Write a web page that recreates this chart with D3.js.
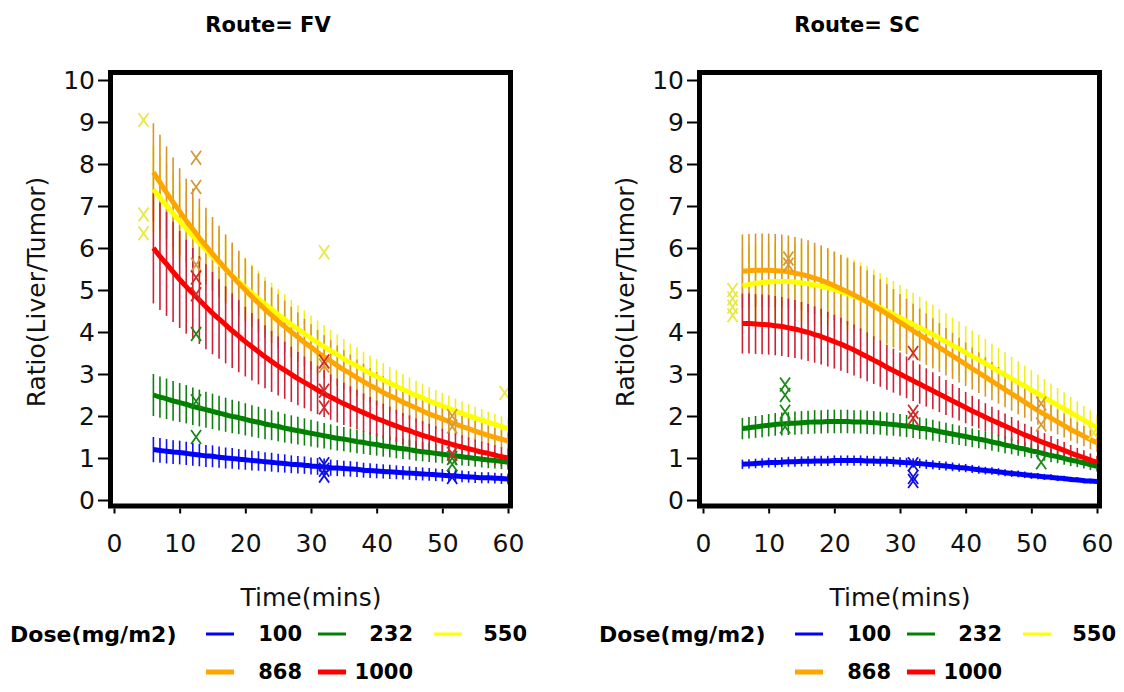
<!DOCTYPE html>
<html>
<head>
<meta charset="utf-8">
<script src="https://cdn.jsdelivr.net/npm/d3@7"></script>
<style>
  body { margin: 0; background: #fff; }
  svg { display: block; }
</style>
</head>
<body>
<svg id="chart" width="1124" height="692"></svg>
<script>

// ------------------------------------------------------
// DATA
// ------------------------------------------------------
var doses = ["100", "232", "550", "868", "1000"];
var lineColors = ["#0000ff", "#008000", "#ffff00", "#ffa500", "#ff0000"];
var barColors = ["#1010f0", "#108010", "#f0f020", "#d89628", "#cc2238"];
var markColors = ["#1010e0", "#1a8a1a", "#e8e840", "#d49a3a", "#d02a2a"];

var xTicks = [0, 10, 20, 30, 40, 50, 60];
var yTicks = [0, 1, 2, 3, 4, 5, 6, 7, 8, 9, 10];

// time grid of the fitted curves (mins)
var fitTimes = [6,7,8,9,10,11,12,13,14,15,16,17,18,19,20,21,22,23,24,25,26,27,28,29,30,31,32,33,
                34,35,36,37,38,39,40,41,42,43,44,45,46,47,48,49,50,51,52,53,54,55,56,57,58,59,60];

// Route = FV, fitted ratio per dose
var fvFit100  = [1.20,1.18,1.16,1.14,1.13,1.11,1.09,1.07,1.05,1.04,1.02,1.00,0.99,0.97,0.96,0.94,0.93,0.91,0.90,0.88,0.87,0.85,0.84,0.83,0.81,0.80,0.79,0.77,
                 0.76,0.75,0.74,0.73,0.71,0.70,0.69,0.68,0.67,0.66,0.65,0.64,0.63,0.62,0.61,0.60,0.59,0.58,0.57,0.56,0.55,0.54,0.53,0.53,0.52,0.51,0.50];
var fvFit232  = [2.50,2.45,2.41,2.36,2.32,2.28,2.23,2.19,2.15,2.11,2.07,2.03,1.99,1.96,1.92,1.88,1.85,1.81,1.78,1.75,1.71,1.68,1.65,1.62,1.59,1.56,1.53,1.50,
                 1.47,1.45,1.42,1.39,1.37,1.34,1.32,1.29,1.27,1.24,1.22,1.20,1.17,1.15,1.13,1.11,1.09,1.07,1.05,1.03,1.01,0.99,0.97,0.95,0.94,0.92,0.90];
var fvFit550  = [7.40,7.20,7.01,6.82,6.64,6.46,6.29,6.12,5.95,5.79,5.64,5.49,5.34,5.20,5.06,4.92,4.79,4.66,4.54,4.41,4.30,4.18,4.07,3.96,3.85,3.75,3.65,3.55,
                 3.46,3.36,3.27,3.19,3.10,3.02,2.94,2.86,2.78,2.71,2.63,2.56,2.49,2.43,2.36,2.30,2.24,2.18,2.12,2.06,2.01,1.95,1.90,1.85,1.80,1.75,1.70];
var fvFit868  = [7.80,7.56,7.32,7.09,6.87,6.65,6.45,6.24,6.05,5.86,5.68,5.50,5.33,5.16,5.00,4.84,4.69,4.54,4.40,4.26,4.13,4.00,3.88,3.75,3.64,3.52,3.41,3.31,
                 3.20,3.10,3.01,2.91,2.82,2.73,2.65,2.56,2.48,2.41,2.33,2.26,2.19,2.12,2.05,1.99,1.93,1.87,1.81,1.75,1.70,1.64,1.59,1.54,1.49,1.45,1.40];
var fvFit1000 = [6.00,5.80,5.62,5.43,5.25,5.08,4.92,4.76,4.60,4.45,4.31,4.17,4.03,3.90,3.77,3.65,3.53,3.41,3.30,3.19,3.09,2.99,2.89,2.80,2.71,2.62,2.53,2.45,
                 2.37,2.29,2.22,2.15,2.08,2.01,1.94,1.88,1.82,1.76,1.70,1.65,1.59,1.54,1.49,1.44,1.39,1.35,1.30,1.26,1.22,1.18,1.14,1.11,1.07,1.03,1.00];

// Route = SC, fitted ratio per dose
var scFit100  = [0.85,0.86,0.87,0.88,0.89,0.89,0.90,0.91,0.91,0.92,0.92,0.93,0.93,0.93,0.94,0.94,0.94,0.94,0.94,0.93,0.93,0.92,0.92,0.91,0.90,0.89,0.88,0.87,
                 0.85,0.84,0.82,0.81,0.79,0.77,0.76,0.74,0.72,0.70,0.69,0.67,0.65,0.63,0.62,0.60,0.58,0.57,0.55,0.54,0.52,0.51,0.49,0.48,0.46,0.45,0.44];
var scFit232  = [1.70,1.72,1.74,1.76,1.78,1.80,1.81,1.82,1.83,1.84,1.85,1.86,1.86,1.87,1.87,1.87,1.87,1.86,1.86,1.85,1.84,1.83,1.81,1.80,1.78,1.76,1.74,1.71,
                 1.69,1.66,1.63,1.60,1.57,1.54,1.51,1.48,1.45,1.42,1.38,1.35,1.31,1.28,1.24,1.21,1.17,1.14,1.10,1.06,1.03,0.99,0.95,0.92,0.88,0.84,0.80];
var scFit550  = [5.10,5.13,5.16,5.18,5.19,5.20,5.20,5.20,5.19,5.17,5.15,5.12,5.09,5.05,5.01,4.96,4.91,4.85,4.79,4.72,4.65,4.58,4.50,4.42,4.34,4.26,4.18,4.10,
                 4.02,3.94,3.85,3.77,3.68,3.60,3.51,3.42,3.34,3.25,3.16,3.07,2.98,2.89,2.80,2.71,2.62,2.53,2.44,2.35,2.26,2.17,2.08,1.99,1.90,1.81,1.72];
var scFit868  = [5.45,5.46,5.47,5.47,5.47,5.46,5.45,5.43,5.40,5.37,5.33,5.28,5.23,5.17,5.10,5.03,4.96,4.88,4.80,4.71,4.62,4.53,4.43,4.33,4.23,4.13,4.03,3.93,
                 3.83,3.73,3.63,3.53,3.43,3.33,3.23,3.13,3.03,2.93,2.83,2.73,2.63,2.53,2.43,2.33,2.23,2.13,2.04,1.95,1.86,1.77,1.68,1.60,1.52,1.44,1.36];
var scFit1000 = [4.20,4.20,4.19,4.18,4.17,4.15,4.13,4.10,4.07,4.03,3.99,3.94,3.89,3.83,3.77,3.71,3.64,3.57,3.49,3.41,3.33,3.25,3.16,3.08,3.00,2.92,2.84,2.76,
                 2.68,2.60,2.52,2.44,2.36,2.28,2.20,2.12,2.05,1.97,1.90,1.83,1.76,1.69,1.62,1.55,1.49,1.42,1.36,1.30,1.24,1.18,1.12,1.06,1.01,0.95,0.90];

// half width of the vertical bars, as a share of the fitted value
var fvBand = [0.25, 0.20, 0.14, 0.15, 0.22];
var scBand = [0.13, 0.15, 0.18, 0.16, 0.17];

// observed values [time, ratio]
var fvObs100  = [[32, 0.85], [32, 0.72], [32, 0.58], [51.5, 0.55]];
var fvObs232  = [[12.5, 3.95], [12.5, 2.35], [12.5, 1.5], [51.5, 1.0], [51.5, 0.85]];
var fvObs550  = [[4.5, 9.05], [4.5, 6.8], [4.5, 6.35], [32, 5.9], [32, 3.3], [59.5, 2.55]];
var fvObs868  = [[12.5, 8.15], [12.5, 7.45], [12.5, 5.6], [32, 3.2], [51.5, 2.0], [51.5, 1.75]];
var fvObs1000 = [[12.5, 5.3], [12.5, 4.9], [32, 3.3], [32, 2.6], [32, 2.2], [51.5, 1.1]];

var scObs100  = [[32, 0.85], [32, 0.55], [32, 0.45]];
var scObs232  = [[12.5, 2.75], [12.5, 2.5], [12.5, 2.1], [12.5, 1.75], [51.5, 0.9]];
var scObs550  = [[4.5, 5.0], [4.5, 4.8], [4.5, 4.6], [4.5, 4.4], [59.5, 1.6]];
var scObs868  = [[13, 5.75], [13, 5.6], [51.5, 2.3], [51.5, 1.8]];
var scObs1000 = [[32, 3.5], [32, 2.1], [32, 1.95]];


// ------------------------------------------------------
// SETUP
// ------------------------------------------------------
var svg = d3.select("#chart");
var tickFont = "DejaVu Sans";

var panels = [
    { title: "Route= FV", left: 114, fits: [fvFit100, fvFit232, fvFit550, fvFit868, fvFit1000],
      obs: [fvObs100, fvObs232, fvObs550, fvObs868, fvObs1000], band: fvBand },
    { title: "Route= SC", left: 703, fits: [scFit100, scFit232, scFit550, scFit868, scFit1000],
      obs: [scObs100, scObs232, scObs550, scObs868, scObs1000], band: scBand }
];

panels.forEach(drawPanel);

// --------------------------------------------------
// One panel: bars, fitted lines, observed X marks, frame, axes, legend
// --------------------------------------------------
function drawPanel(p) {
    var x = d3.scaleLinear().domain([0, 60]).range([p.left, p.left + 394]);
    var y = d3.scaleLinear().domain([0, 10]).range([500, 80]);
    var g = svg.append("g");

    var frameL = x(0) - 3.5, frameR = x(60) + 2.5, frameT = y(10) - 7.5, frameB = y(0) + 6;

    // vertical bars
    p.fits.forEach(function(fit, i) {
        var rows = fit.map(function(v, j) { return { t: fitTimes[j], v: v }; });
        g.append("g").selectAll("line")
            .data(rows)
            .enter().append("line")
            .attr("x1", function(d) { return x(d.t); })
            .attr("x2", function(d) { return x(d.t); })
            .attr("y1", function(d) { return y(d.v * (1 + p.band[i])); })
            .attr("y2", function(d) { return y(d.v * (1 - p.band[i])); })
            .attr("stroke", barColors[i])
            .attr("stroke-width", 1.6);
    });

    // fitted curves
    var line = d3.line()
        .x(function(d) { return x(d.t); })
        .y(function(d) { return y(d.v); })
        .curve(d3.curveMonotoneX);

    p.fits.forEach(function(fit, i) {
        var rows = fit.map(function(v, j) { return { t: fitTimes[j], v: v }; });
        g.append("path")
            .datum(rows)
            .attr("d", line)
            .attr("fill", "none")
            .attr("stroke", lineColors[i])
            .attr("stroke-width", 5)
            .attr("stroke-linejoin", "round");
    });

    // observed points
    p.obs.forEach(function(pts, i) {
        g.append("g").selectAll("path")
            .data(pts)
            .enter().append("path")
            .attr("transform", function(d) { return "translate(" + x(d[0]) + "," + y(d[1]) + ")"; })
            .attr("d", "M-5,-7L5,7M5,-7L-5,7")
            .attr("fill", "none")
            .attr("stroke", markColors[i])
            .attr("stroke-width", 1.8);
    });

    // frame
    g.append("rect")
        .attr("x", frameL).attr("y", frameT)
        .attr("width", frameR - frameL).attr("height", frameB - frameT)
        .attr("fill", "none")
        .attr("stroke", "#000")
        .attr("stroke-width", 5);

    // axes
    var yAxis = g.append("g")
        .attr("transform", "translate(" + (frameL - 2.5) + ",0)")
        .call(d3.axisLeft(y).tickValues(yTicks).tickSize(10).tickPadding(3));
    var xAxis = g.append("g")
        .attr("transform", "translate(0," + (frameB + 2.5) + ")")
        .call(d3.axisBottom(x).tickValues(xTicks).tickSize(5).tickPadding(21));

    [yAxis, xAxis].forEach(function(a) {
        a.select(".domain").remove();
        a.selectAll(".tick line").attr("stroke", "#000").attr("stroke-width", 2);
        a.selectAll(".tick text")
            .attr("fill", "#111")
            .attr("font-family", tickFont)
            .attr("font-size", 25);
    });

    // titles
    g.append("text")
        .attr("x", p.left + 154).attr("y", 32)
        .attr("text-anchor", "middle")
        .attr("font-family", "DejaVu Sans")
        .attr("font-weight", "bold")
        .attr("font-size", 21)
        .text(p.title);

    g.append("text")
        .attr("transform", "translate(" + (p.left - 78) + "," + 292 + ") rotate(-90)")
        .attr("dy", "0.35em")
        .attr("text-anchor", "middle")
        .attr("font-family", tickFont)
        .attr("font-size", 25)
        .attr("fill", "#111")
        .text("Ratio(Liver/Tumor)");

    g.append("text")
        .attr("x", (x(0) + x(60)) / 2).attr("y", 606)
        .attr("text-anchor", "middle")
        .attr("font-family", tickFont)
        .attr("font-size", 25)
        .attr("fill", "#111")
        .text("Time(mins)");

    drawLegend(g, p.left - 114);
}

// --------------------------------------------------
// Legend below each panel
// --------------------------------------------------
function drawLegend(g, ox) {
    var swatchX = [206, 318, 434];
    var textEnd = [302, 413, 527];
    var rowY = [634, 672];

    g.append("text")
        .attr("x", ox + 10).attr("y", rowY[0])
        .attr("dy", "0.35em")
        .attr("font-family", "DejaVu Sans")
        .attr("font-weight", "bold")
        .attr("font-size", 22)
        .text("Dose(mg/m2)");

    var item = g.append("g").selectAll("g")
        .data(doses)
        .enter().append("g")
        .attr("transform", function(d, i) {
            return "translate(" + ox + "," + rowY[Math.floor(i / 3)] + ")";
        });

    item.append("line")
        .attr("x1", function(d, i) { return swatchX[i % 3]; })
        .attr("x2", function(d, i) { return swatchX[i % 3] + 28; })
        .attr("stroke", function(d, i) { return lineColors[i]; })
        .attr("stroke-width", function(d, i) { return i > 2 ? 5 : 3; });

    item.append("text")
        .attr("x", function(d, i) { return textEnd[i % 3]; })
        .attr("dy", "0.35em")
        .attr("text-anchor", "end")
        .attr("font-family", "DejaVu Sans")
        .attr("font-weight", "bold")
        .attr("font-size", 21)
        .text(function(d) { return d; });
}
</script>
</body>
</html>
